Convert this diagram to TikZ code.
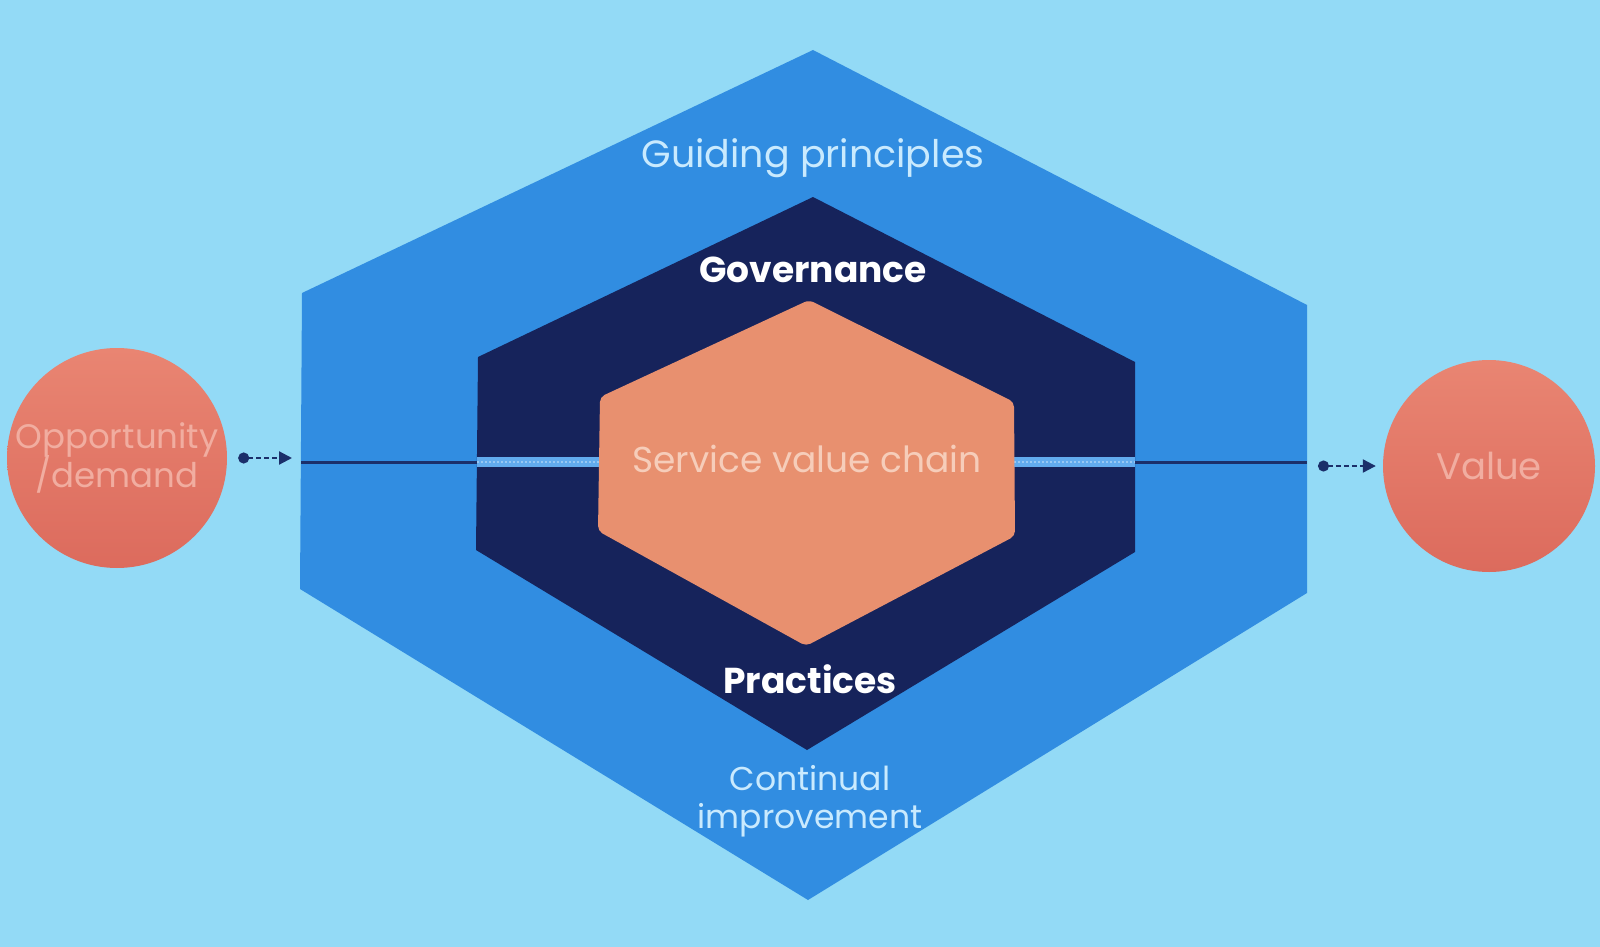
\documentclass[tikz,border=0pt]{standalone}
\usepackage{fontspec}
\setmainfont{Poppins}
\usetikzlibrary{arrows.meta,calc}
\definecolor{bg}{HTML}{93DAF6}
\definecolor{outerblue}{HTML}{318DE1}
\definecolor{navy}{HTML}{16235B}
\definecolor{linenavy}{HTML}{1B2F6A}
\definecolor{svc}{HTML}{E8906F}
\definecolor{circtop}{HTML}{E98572}
\definecolor{circbot}{HTML}{DC6B5D}
\definecolor{bandblue}{HTML}{62ABEE}
\definecolor{paleblue}{HTML}{C9EAFE}
\definecolor{paleorange}{HTML}{F6CDBA}
\definecolor{palered}{HTML}{F1ADA0}
\tikzset{
  hexfill/.style={line join=round},
  circ/.style={circle, minimum size=#1, inner sep=0pt, top color=circtop, bottom color=circbot, draw=none},
  lbl/.style={font=\fontsize{37}{44}\selectfont, align=center, inner sep=0pt},
  conn/.style={linenavy, line width=2.2pt, dash pattern=on 5pt off 3pt,
    {Circle[length=11pt]}-{Triangle[length=13pt,width=13pt]}},
  navyline/.style={linenavy, line width=3pt},
  bandline/.style={bandblue, line width=10pt},
  banddots/.style={white, opacity=0.35, line width=2pt, dash pattern=on 2pt off 2pt}
}
\begin{document}
\begin{tikzpicture}[x=1pt,y=-1pt]
\fill[bg] (0,0) rectangle (1600,947);
\useasboundingbox (0,0) rectangle (1600,947);
% outer hexagon
\coordinate (oT) at (813,50);
\coordinate (oUR) at (1307,305);
\coordinate (oLR) at (1307,593);
\coordinate (oB) at (808,900);
\coordinate (oLL) at (300,589);
\coordinate (oUL) at (302,293);
\fill[outerblue, hexfill] (oT) -- (oUR) -- (oLR) -- (oB) -- (oLL) -- (oUL) -- cycle;
% dark hexagon
\coordinate (dT) at (813,197);
\coordinate (dUR) at (1135,362);
\coordinate (dLR) at (1135,552);
\coordinate (dB) at (807,750);
\coordinate (dLL) at (476,550);
\coordinate (dUL) at (478,357);
\fill[navy, hexfill] (dT) -- (dUR) -- (dLR) -- (dB) -- (dLL) -- (dUL) -- cycle;
% band through the middle
\coordinate (oL) at (301,462);
\coordinate (dL) at (477,462);
\coordinate (sL) at (600,462);
\coordinate (sR) at (1014,462);
\coordinate (dR) at (1135,462);
\coordinate (oR) at (1307,462);
\draw[navyline] (oL) -- (dL);
\draw[navyline] (dR) -- (oR);
\draw[bandline] (dL) -- (sL);
\draw[bandline] (sR) -- (dR);
\draw[banddots] (dL) -- (sL);
\draw[banddots] (sR) -- (dR);
% service value chain hexagon
\coordinate (sT) at (809,300);
\coordinate (sUR) at (1014,402);
\coordinate (sLR) at (1015,536);
\coordinate (sB) at (806,646);
\coordinate (sLL) at (598,531);
\coordinate (sUL) at (600,397);
\fill[svc, rounded corners=5pt] (sT) -- (sUR) -- (sLR) -- (sB) -- (sLL) -- (sUL) -- cycle;
% circles
\node[circ=220pt] (opp) at (117,458) {};
\node[circ=212pt] (val) at (1489,466) {};
\node[lbl, text=palered, font=\fontsize{34}{40}\selectfont] (opptxt) at (opp) {Opportunity\\[-3pt]/demand};
\node[lbl, text=palered] (valtxt) at (val) {Value};
% connectors
\draw[conn, shorten <=11pt, shorten >=9pt] (opp.east) -- (opp.east -| oL);
\draw[conn, shorten <=11pt, shorten >=7pt] (val.west -| oR) -- (val.west);
% labels
\node[lbl, text=paleblue, font=\fontsize{38}{44}\selectfont] (gp) at (813,158) {Guiding principles};
\node[lbl, text=white, font=\bfseries\fontsize{36}{44}\selectfont] (gov) at (813,270) {Governance};
\node[lbl, text=paleorange, font=\fontsize{36}{44}\selectfont] (svctxt) at (807,459) {Service value chain};
\node[lbl, text=white, font=\bfseries\fontsize{36}{44}\selectfont] (prac) at (810,679) {Practices};
\node[lbl, text=paleblue, font=\fontsize{33}{38}\selectfont] (ci) at (810,801) {Continual\\improvement};
\end{tikzpicture}
\end{document}
